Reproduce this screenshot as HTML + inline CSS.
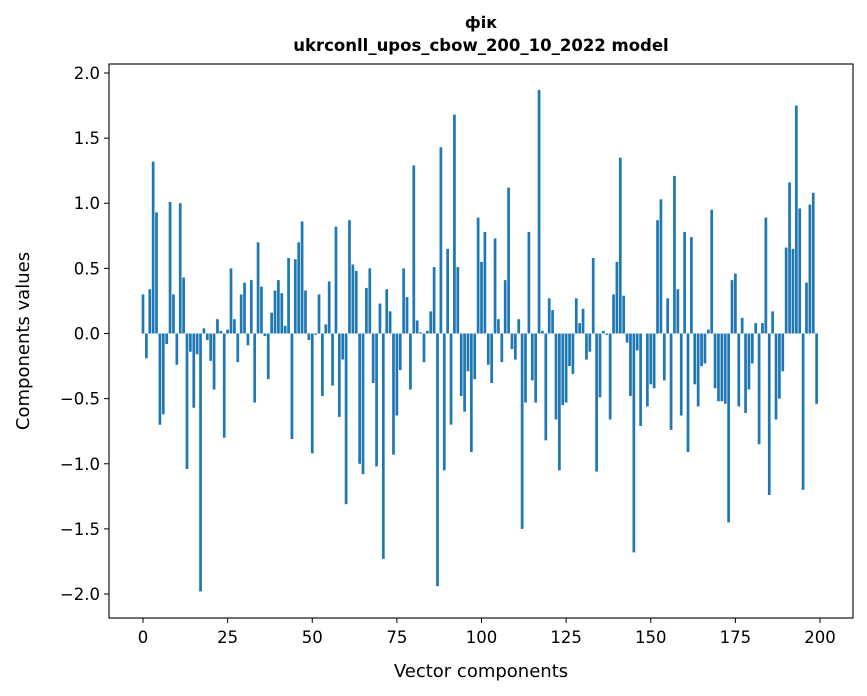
<!DOCTYPE html>
<html><head><meta charset="utf-8"><style>
html,body{margin:0;padding:0;background:#fff;}
svg{display:block;font-family:"DejaVu Sans","Liberation Sans",sans-serif;}
</style></head><body>
<svg id="chart" width="867" height="696" viewBox="0 0 867 696" xmlns="http://www.w3.org/2000/svg">
<rect x="0" y="0" width="867" height="696" fill="#fff"/>
<text x="481" y="28" text-anchor="middle" font-size="16" font-weight="bold">фік</text>
<text x="481" y="51" text-anchor="middle" font-size="16.5" font-weight="bold">ukrconll_upos_cbow_200_10_2022 model</text>
<g id="bars"></g>
<g id="axes"></g>
<text x="481" y="677" text-anchor="middle" font-size="18">Vector components</text>
<text x="0" y="0" transform="translate(29,341) rotate(-90)" text-anchor="middle" font-size="18">Components values</text>
</svg>
<script>
const values = [0.30,-0.19,0.34,1.32,0.93,-0.70,-0.62,-0.08,1.01,0.30,
-0.24,1.00,0.43,-1.04,-0.14,-0.57,-0.16,-1.98,0.04,-0.05,
-0.21,-0.43,0.11,0.02,-0.80,0.03,0.50,0.11,-0.22,0.30,
0.39,-0.09,0.41,-0.53,0.70,0.36,-0.02,-0.35,0.16,0.33,
0.41,0.31,0.06,0.58,-0.81,0.57,0.70,0.86,0.33,-0.05,
-0.92,-0.01,0.30,-0.48,0.07,0.40,-0.40,0.82,-0.64,-0.20,
-1.31,0.87,0.53,0.48,-1.00,-1.08,0.35,0.50,-0.38,-1.02,
0.23,-1.73,0.34,0.17,-0.93,-0.63,-0.28,0.50,0.28,-0.43,
1.29,0.10,0.01,-0.22,0.02,0.17,0.51,-1.94,1.43,-1.05,
0.65,-0.70,1.68,0.51,-0.48,-0.60,-0.29,-0.91,-0.35,0.89,
0.55,0.78,-0.24,-0.38,0.73,0.11,-0.22,0.41,1.12,-0.12,
-0.20,0.11,-1.50,-0.53,0.78,-0.36,-0.53,1.87,0.02,-0.82,
0.27,0.18,-0.66,-1.05,-0.55,-0.53,-0.25,-0.31,0.27,0.08,
0.19,-0.20,-0.14,0.58,-1.06,-0.49,0.02,-0.01,-0.66,0.30,
0.55,1.35,0.29,-0.07,-0.48,-1.68,-0.13,-0.71,0.00,-0.56,
-0.39,-0.42,0.87,1.03,-0.36,0.27,-0.74,1.21,0.34,-0.63,
0.78,-0.91,0.74,-0.39,-0.56,-0.25,-0.23,0.03,0.95,-0.42,
-0.52,-0.52,-0.54,-1.45,0.41,0.46,-0.56,0.12,-0.61,-0.43,
-0.23,0.08,-0.85,0.08,0.89,-1.24,0.17,-0.66,-0.50,-0.29,
0.66,1.16,0.65,1.75,0.96,-1.20,0.39,0.99,1.08,-0.54];
const xTicks = [0,25,50,75,100,125,150,175,200];
const xTickLabels = ["0","25","50","75","100","125","150","175","200"];
const yTicks = [2.0,1.5,1.0,0.5,0.0,-0.5,-1.0,-1.5,-2.0];
const yTickLabels = ["2.0","1.5","1.0","0.5","0.0","\u22120.5","\u22121.0","\u22121.5","\u22122.0"];

const NS = "http://www.w3.org/2000/svg";
const L = 109, R = 853, T = 64, B = 618;
const xMin = -10.04, xMax = 209.74;
const yMax = 2.069, yMin = -2.184;
function xs(v){ return L + (v - xMin) / (xMax - xMin) * (R - L); }
function ys(v){ return T + (yMax - v) / (yMax - yMin) * (B - T); }
function mk(tag, attrs){ const e = document.createElementNS(NS, tag); for (const k in attrs) e.setAttribute(k, attrs[k]); return e; }

const bars = document.getElementById('bars');
const bw = xs(0.4) - xs(-0.4);
values.forEach((v, i) => {
  const y0 = ys(0), y1 = ys(v);
  const r = mk('rect', {x: xs(i) - bw/2, y: Math.min(y0, y1), width: bw, height: Math.max(Math.abs(y1 - y0), 0.01), fill: '#1f77b4'});
  
  
  bars.appendChild(r);
});

const axes = document.getElementById('axes');
const frame = mk('rect', {x: L, y: T, width: R - L, height: B - T, fill: 'none', stroke: '#000', 'stroke-width': 1.1});


axes.appendChild(frame);

xTicks.forEach((t, i) => {
  const x = xs(t);
  const tk = mk('line', {x1: x, x2: x, y1: B, y2: B + 5, stroke: '#000', 'stroke-width': 1});
  
  
  axes.appendChild(tk);
  const lb = mk('text', {x: x, y: B + 25, 'text-anchor': 'middle', 'font-size': 16.5});
  lb.textContent = xTickLabels[i];
  
  
  axes.appendChild(lb);
});
yTicks.forEach((t, i) => {
  const y = ys(t);
  const tk = mk('line', {x1: L - 5, x2: L, y1: y, y2: y, stroke: '#000', 'stroke-width': 1});
  
  
  axes.appendChild(tk);
  const lb = mk('text', {x: L - 9, y: y + 6, 'text-anchor': 'end', 'font-size': 16.5});
  lb.textContent = yTickLabels[i];
  
  
  axes.appendChild(lb);
});
</script>
</body></html>
